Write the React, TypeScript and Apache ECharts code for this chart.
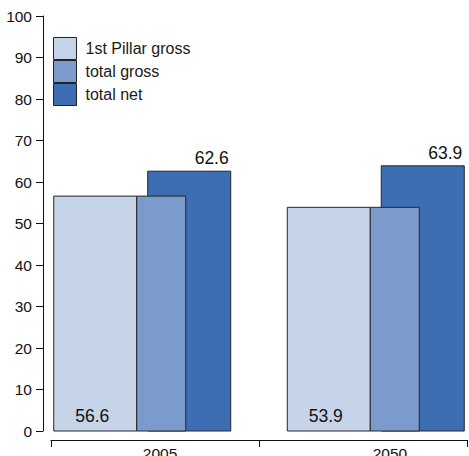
import React, { useEffect, useRef } from "react";
import * as echarts from "echarts";

const categories = ["2005", "2050"];
const seriesNames = ["1st Pillar gross", "total gross", "total net"];
const pillarGross = [56.6, 53.9];
const totalGross = [56.6, 53.9];
const totalNet = [62.6, 63.9];
const yMin = 0;
const yMax = 100;
const yStep = 10;

const colors = ["#C6D4E9", "#7A9BCB", "#3D6DB2"];
const NUMFONT = '"Liberation Sans", Arial, sans-serif';

type LabelMode = "bottom" | "top" | null;

function makeRenderItem(x0: number, x1: number, color: string, mode: LabelMode) {
  return (params: any, api: any) => {
    const idx = api.value(0);
    const val = api.value(1);
    const top = api.coord([idx, val]);
    const base = api.coord([idx, 0]);
    const left = top[0] + x0;
    const width = x1 - x0;
    const children: any[] = [
      {
        type: "rect",
        shape: { x: left, y: top[1], width, height: base[1] - top[1] },
        style: { fill: color, stroke: "#262626", lineWidth: 1 },
      },
    ];
    if (mode === "bottom") {
      children.push({
        type: "text",
        style: {
          text: Number(val).toFixed(1),
          x: left + width / 2 - 3,
          y: base[1] - 6,
          fontSize: 17.5,
          fontFamily: NUMFONT,
          fill: "#111",
          align: "center",
          verticalAlign: "bottom",
        },
      });
    } else if (mode === "top") {
      children.push({
        type: "text",
        style: {
          text: Number(val).toFixed(1),
          x: left + width - 2,
          y: top[1] - 4,
          fontSize: 17.5,
          fontFamily: NUMFONT,
          fill: "#111",
          align: "right",
          verticalAlign: "bottom",
        },
      });
    }
    return { type: "group", children };
  };
}

export default function App() {
  const ref = useRef<HTMLDivElement>(null);
  useEffect(() => {
    if (!ref.current) return;
    const chart = echarts.init(ref.current, null, { renderer: "svg" });
    const toData = (arr: number[]) => arr.map((v, i) => [i, v]);
    chart.setOption({
      animation: false,
      backgroundColor: "#ffffff",
      grid: [
        { left: 43, right: 0, top: 16, bottom: 25, containLabel: false, outerBoundsMode: "none" },
        { left: 51, right: 2, top: 420, bottom: 16, containLabel: false, outerBoundsMode: "none" },
      ],
      legend: {
        orient: "vertical",
        left: 53,
        top: 37,
        padding: 0,
        itemWidth: 23,
        itemHeight: 22,
        itemGap: 0,
        selectedMode: false,
        data: seriesNames.map((n, i) => ({
          name: n,
          icon: "rect",
          itemStyle: { color: colors[i], borderColor: "#222", borderWidth: 1 },
        })),
        textStyle: {
          fontFamily: '"Liberation Sans", Arial, sans-serif',
          fontSize: 16,
          color: "#1a1a1a",
          padding: [0, 0, 0, 4],
        },
      },
      xAxis: [
        { gridIndex: 0, type: "value", min: -0.427, max: 1.397, show: false },
        {
          gridIndex: 1,
          type: "category",
          data: categories,
          axisLine: { show: true, lineStyle: { color: "#111", width: 1 } },
          axisTick: { show: true, length: 7, lineStyle: { color: "#111" } },
          axisLabel: {
            margin: 5,
            color: "#111",
            fontFamily: NUMFONT,
            fontSize: 15.5,
            formatter: (v: string, i: number) => `{c${i}|${v}}`,
            rich: {
              c0: { padding: [0, 0, 0, 10], fontFamily: NUMFONT, fontSize: 15.5, color: "#111" },
              c1: { padding: [0, 0, 0, 54], fontFamily: NUMFONT, fontSize: 15.5, color: "#111" },
            },
          },
          splitLine: { show: false },
        },
      ],
      yAxis: [
        {
          gridIndex: 0,
          type: "value",
          min: yMin,
          max: yMax,
          interval: yStep,
          axisLine: { show: true, onZero: false, lineStyle: { color: "#111", width: 1 } },
          axisTick: { show: true, length: 7, lineStyle: { color: "#111" } },
          axisLabel: { margin: 11, color: "#111", fontFamily: NUMFONT, fontSize: 15.5 },
          splitLine: { show: false },
        },
        { gridIndex: 1, type: "value", show: false },
      ],
      series: [
        {
          type: "custom",
          name: seriesNames[0],
          xAxisIndex: 0,
          yAxisIndex: 0,
          z: 3,
          itemStyle: { color: colors[0] },
          encode: { x: 0, y: 1 },
          data: toData(pillarGross),
          renderItem: makeRenderItem(-89, -6, colors[0], "bottom"),
        },
        {
          type: "custom",
          name: seriesNames[1],
          xAxisIndex: 0,
          yAxisIndex: 0,
          z: 3,
          itemStyle: { color: colors[1] },
          encode: { x: 0, y: 1 },
          data: toData(totalGross),
          renderItem: makeRenderItem(-6, 43, colors[1], null),
        },
        {
          type: "custom",
          name: seriesNames[2],
          xAxisIndex: 0,
          yAxisIndex: 0,
          z: 2,
          itemStyle: { color: colors[2] },
          encode: { x: 0, y: 1 },
          data: toData(totalNet),
          renderItem: makeRenderItem(5, 88, colors[2], "top"),
        },
      ],
    });
    return () => chart.dispose();
  }, []);
  return (
    <div
      ref={ref}
      style={{ position: "fixed", left: 0, top: 0, width: 469, height: 456, background: "#fff" }}
    />
  );
}
